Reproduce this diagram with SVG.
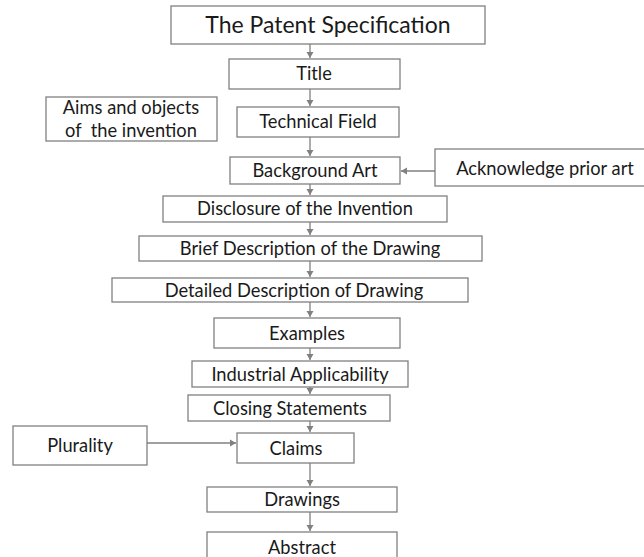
<svg xmlns="http://www.w3.org/2000/svg" width="644" height="557" viewBox="0 0 644 557">
<style>
.box{fill:#ffffff;stroke:#808080;stroke-width:1.3}
.t{font-family:Lato,"Open Sans",sans-serif;font-size:18.3px;fill:#1a1a1a;text-anchor:middle}
.big{font-size:23px}
.c{stroke:#808080;stroke-width:1.3;fill:none}
</style>
<defs>
<marker id="ah" markerWidth="8" markerHeight="8" refX="6" refY="4" orient="auto" markerUnits="userSpaceOnUse">
<path d="M0,0.5 L6,4 L0,7.5 Z" fill="#808080"/>
</marker>
</defs>
<rect width="644" height="557" fill="#ffffff"/>
<g id="connectors">
<line class="c" x1="310" y1="44" x2="310" y2="58" marker-end="url(#ah)"/>
<line class="c" x1="310" y1="89" x2="310" y2="106" marker-end="url(#ah)"/>
<line class="c" x1="310" y1="137" x2="310" y2="156" marker-end="url(#ah)"/>
<line class="c" x1="310" y1="184" x2="310" y2="195" marker-end="url(#ah)"/>
<line class="c" x1="310" y1="222" x2="310" y2="235" marker-end="url(#ah)"/>
<line class="c" x1="310" y1="261" x2="310" y2="277" marker-end="url(#ah)"/>
<line class="c" x1="310" y1="302" x2="310" y2="317" marker-end="url(#ah)"/>
<line class="c" x1="310" y1="348" x2="310" y2="360" marker-end="url(#ah)"/>
<line class="c" x1="310" y1="387" x2="310" y2="394" marker-end="url(#ah)"/>
<line class="c" x1="310" y1="421" x2="310" y2="432" marker-end="url(#ah)"/>
<line class="c" x1="310" y1="463" x2="310" y2="486" marker-end="url(#ah)"/>
<line class="c" x1="310" y1="512" x2="310" y2="531" marker-end="url(#ah)"/>
<line class="c" x1="435" y1="171" x2="401" y2="171" marker-end="url(#ah)"/>
<line class="c" x1="147" y1="443" x2="236" y2="443" marker-end="url(#ah)"/>
</g>
<g id="patent-specification"><rect class="box" x="171" y="6" width="314" height="38"/><text class="t big" x="328" y="33">The Patent Specification</text></g>
<g id="title"><rect class="box" x="229" y="59" width="171" height="30"/><text class="t" x="314" y="80">Title</text></g>
<g id="aims"><rect class="box" x="46" y="97" width="171" height="44"/><text class="t" x="131" y="114">Aims and objects</text><text class="t" x="131" y="137" xml:space="preserve">of  the invention</text></g>
<g id="technical-field"><rect class="box" x="237" y="107" width="162" height="30"/><text class="t" x="318" y="128">Technical Field</text></g>
<g id="background-art"><rect class="box" x="230" y="157" width="170" height="27"/><text class="t" x="315" y="177">Background Art</text></g>
<g id="acknowledge"><rect class="box" x="435" y="149" width="215" height="37"/><text class="t" x="545" y="175">Acknowledge prior art</text></g>
<g id="disclosure"><rect class="box" x="163" y="196" width="284" height="26"/><text class="t" x="305" y="215">Disclosure of the Invention</text></g>
<g id="brief"><rect class="box" x="139" y="236" width="343" height="25"/><text class="t" x="310" y="255">Brief Description of the Drawing</text></g>
<g id="detailed"><rect class="box" x="112" y="278" width="356" height="24"/><text class="t" x="294" y="297">Detailed Description of Drawing</text></g>
<g id="examples"><rect class="box" x="214" y="318" width="186" height="30"/><text class="t" x="307" y="340">Examples</text></g>
<g id="industrial"><rect class="box" x="192" y="361" width="216" height="26"/><text class="t" x="300" y="381">Industrial Applicability</text></g>
<g id="closing"><rect class="box" x="188" y="395" width="202" height="26"/><text class="t" x="290" y="415">Closing Statements</text></g>
<g id="plurality"><rect class="box" x="13" y="426" width="134" height="39"/><text class="t" x="80" y="452">Plurality</text></g>
<g id="claims"><rect class="box" x="237" y="433" width="117" height="30"/><text class="t" x="296" y="455">Claims</text></g>
<g id="drawings"><rect class="box" x="207" y="487" width="190" height="25"/><text class="t" x="302" y="506">Drawings</text></g>
<g id="abstract"><rect class="box" x="207" y="532" width="190" height="30"/><text class="t" x="302" y="554">Abstract</text></g>
</svg>
